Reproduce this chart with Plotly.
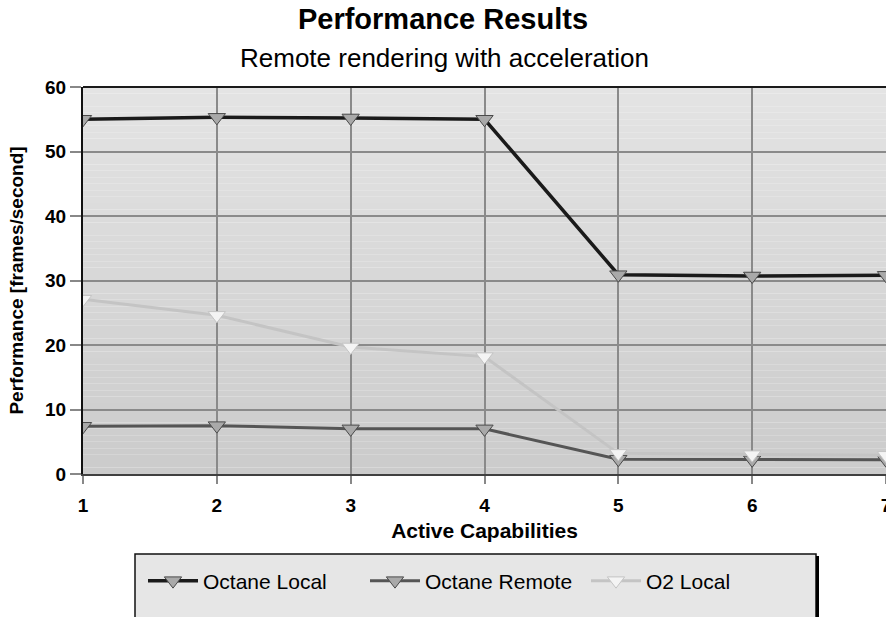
import plotly.graph_objects as go

# Data
capabilities = [1, 2, 3, 4, 5, 6, 7]
octane_local = [55.0, 55.3, 55.2, 55.0, 30.9, 30.7, 30.8]
octane_remote = [7.4, 7.5, 7.0, 7.0, 2.3, 2.2, 2.2]
o2_local = [27.1, 24.6, 19.7, 18.2, 3.2, 3.0, 2.9]

series_names = ["Octane Local", "Octane Remote", "O2 Local"]
y_ticks = [0, 10, 20, 30, 40, 50, 60]

FONT = "Liberation Sans, Arial, sans-serif"

# Plot-area geometry (px)
W, H = 886, 617
ML, MR, MT, MB = 83, 0, 87, 143
PW, PH = W - ML - MR, H - MT - MB


def px_x(p):
    return (p - ML) / PW


def px_y(p):
    return (H - MB - p) / PH


fig = go.Figure()

styles = [
    dict(line=dict(color="#1a1a1a", width=3.5),
         marker=dict(color="#a9a9a9", line=dict(color="#4a4a4a", width=1))),
    dict(line=dict(color="#555555", width=3),
         marker=dict(color="#a9a9a9", line=dict(color="#4a4a4a", width=1))),
    dict(line=dict(color="#c4c4c4", width=3),
         marker=dict(color="#f4f4f4", line=dict(color="#c4c4c4", width=1))),
]
legend_ids = ["legend", "legend2", "legend3"]

for name, ys, st, lg in zip(series_names, [octane_local, octane_remote, o2_local],
                            styles, legend_ids):
    fig.add_trace(go.Scatter(
        x=capabilities, y=ys, name=name, mode="lines+markers",
        line=st["line"],
        marker=dict(symbol="triangle-down", size=15, color=st["marker"]["color"],
                    line=st["marker"]["line"]),
        cliponaxis=True, legend=lg, showlegend=True,
    ))

# Vertical gradient in the plotting area
shapes = []
n = 60
top_c, bot_c = (0xe4, 0xe4, 0xe4), (0xcb, 0xcb, 0xcb)
for i in range(n):
    t = (i + 0.5) / n
    c = tuple(round(top_c[k] + (bot_c[k] - top_c[k]) * t) for k in range(3))
    shapes.append(dict(type="rect", xref="x domain", yref="y domain",
                       x0=0, x1=1, y0=1 - (i + 1) / n, y1=1 - i / n,
                       fillcolor="rgb(%d,%d,%d)" % c, line=dict(width=0),
                       layer="below"))

# Top border of the plot area
shapes.append(dict(type="line", xref="x domain", yref="y domain",
                   x0=0, x1=1, y0=1, y1=1, line=dict(color="#1a1a1a", width=2)))

# Legend panel with a dark shadow on its right edge
shapes.append(dict(type="rect", xref="paper", yref="paper",
                   x0=px_x(135), x1=px_x(816), y0=px_y(630), y1=px_y(554),
                   fillcolor="#e6e6e6", line=dict(color="#111111", width=1.5),
                   layer="below"))
shapes.append(dict(type="line", xref="paper", yref="paper",
                   x0=px_x(817.5), x1=px_x(817.5), y0=px_y(630), y1=px_y(556),
                   line=dict(color="#000000", width=3), layer="below"))


def legend_at(px_left):
    return dict(orientation="h", x=px_x(px_left), xanchor="left",
                y=px_y(581), yanchor="middle", bgcolor="rgba(0,0,0,0)",
                borderwidth=0, font=dict(size=21, family=FONT),
                itemwidth=50)


fig.update_layout(
    width=W, height=H,
    showlegend=True,
    margin=dict(l=ML, r=MR, t=MT, b=MB, autoexpand=False),
    paper_bgcolor="white",
    plot_bgcolor="rgba(0,0,0,0)",
    font=dict(family=FONT, color="black"),
    title=dict(text="Performance Results", x=0.5, xanchor="center",
               y=1 - 19 / H, yanchor="middle", yref="container",
               font=dict(size=29, family=FONT, weight="bold")),
    annotations=[dict(text="Remote rendering with acceleration", xref="paper",
                      yref="paper", x=px_x(444), y=px_y(58), xanchor="center",
                      yanchor="middle", showarrow=False,
                      font=dict(size=26, family=FONT))],
    xaxis=dict(range=[1, 7], tickvals=capabilities, ticks="outside", ticklen=8,
               tickcolor="#888888", tickwidth=2,
               showgrid=True, gridcolor="#8a8a8a", gridwidth=2,
               showline=True, linecolor="#404040", linewidth=2,
               zeroline=False, ticklabeloverflow="allow", automargin=False,
               ticklabelstandoff=5,
               tickfont=dict(size=19, family=FONT, weight="bold"),
               title=dict(text="Active Capabilities", standoff=9,
                          font=dict(size=21, family=FONT, weight="bold"))),
    yaxis=dict(range=[0, 60], tickvals=y_ticks, ticks="outside", ticklen=11,
               tickcolor="#888888", tickwidth=2,
               showgrid=True, gridcolor="#8a8a8a", gridwidth=1.5,
               showline=True, linecolor="#111111", linewidth=2,
               zeroline=False, automargin=False,
               tickfont=dict(size=19, family=FONT, weight="bold"),
               title=dict(text="Performance [frames/second]", standoff=16,
                          font=dict(size=19, family=FONT, weight="bold"))),
    legend=legend_at(143),
    legend2=legend_at(365),
    legend3=legend_at(586),
    shapes=shapes,
)

fig.write_html("out.html")
